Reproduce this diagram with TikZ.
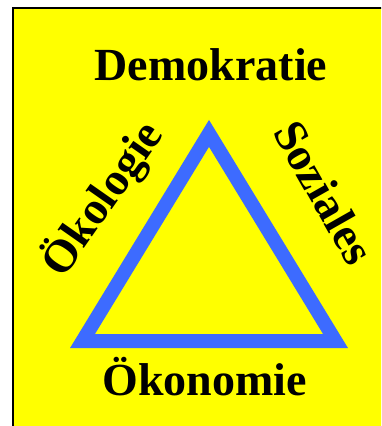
\documentclass[tikz,border=0pt]{standalone}
\usepackage{fontspec}
\setmainfont{Liberation Serif}
\definecolor{triblue}{RGB}{61,107,255}
\definecolor{bgyellow}{RGB}{255,255,0}
\begin{document}
\begin{tikzpicture}[x=1pt,y=-1pt,
  lbl/.style={font=\bfseries\fontsize{46}{50}\selectfont, inner sep=0pt, text=black}]
\useasboundingbox (0,0) rectangle (381,426);
\clip (0,0) rectangle (381,426);
\draw[line width=2pt, fill=bgyellow, draw=black] (13,7.8) rectangle (400,450);
\coordinate (L) at (82.5,341);
\coordinate (T) at (209,133.4);
\coordinate (R) at (335.5,341);
\draw[triblue, line width=14pt, line join=miter] (L) -- (T) -- (R) -- cycle;
\node[lbl, anchor=base] (dem) at (211,80) {Demokratie};
\node[lbl, anchor=base] (oek) at (204.5,395) {Ökonomie};
\node[lbl, anchor=base, rotate=55] (okol) at (114,207) {Ökologie};
\node[lbl, anchor=base, rotate=-60.4] (soz) at (310.5,200.5) {Soziales};
\end{tikzpicture}
\end{document}
